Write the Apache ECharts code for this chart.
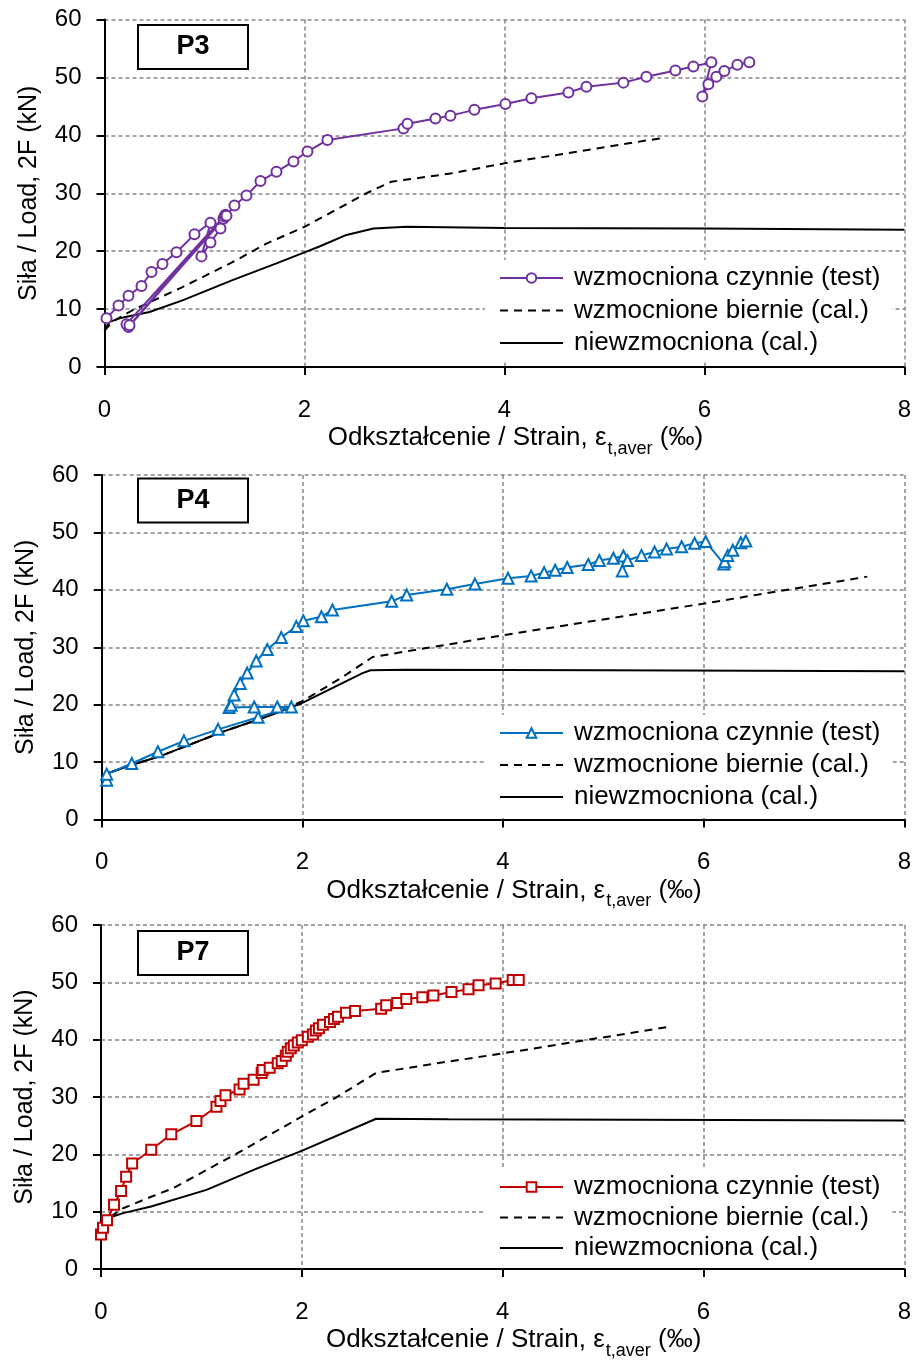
<!DOCTYPE html>
<html>
<head>
<meta charset="utf-8">
<script src="https://cdn.jsdelivr.net/npm/echarts@6/dist/echarts.min.js"></script>
<style>
body{margin:0;background:#fff;}
#chart{width:914px;height:1361px;}
</style>
</head>
<body>
<div id="chart"></div>
<script>
// strain (‰), load (kN)
var xTicks = [0, 2, 4, 6, 8];
var yTicks = [0, 10, 20, 30, 40, 50, 60];
var panelNames = ['P3', 'P4', 'P7'];
var legendNames = ['wzmocniona czynnie (test)', 'wzmocnione biernie (cal.)', 'niewzmocniona (cal.)'];

var p3Test = [[0.02,8.4],[0.14,10.6],[0.24,12.3],[0.37,14.0],[0.47,16.4],[0.58,17.8],[0.72,19.8],[0.90,22.9],[1.06,24.9],
  [0.97,19.1],[1.06,21.5],[1.16,23.9],[1.19,25.6],[0.24,6.9],[1.20,26.0],[0.22,7.4],[1.21,26.3],[0.25,7.2],[1.22,26.1],
  [1.30,27.9],[1.42,29.6],
  [1.56,32.1],[1.72,33.7],[1.89,35.5],[2.03,37.2],[2.23,39.2],[2.99,41.2],[3.03,42.0],[3.31,42.9],[3.46,43.4],[3.70,44.4],
  [4.01,45.4],[4.27,46.4],[4.64,47.4],[4.82,48.4],[5.19,49.1],[5.42,50.1],[5.71,51.2],[5.89,51.9],[6.07,52.6],[5.98,46.7],
  [6.04,48.8],[6.12,50.1],[6.20,51.1],[6.33,52.2],[6.45,52.6]];
var p3Passive = [[0,6.3],[0.08,7.8],[0.28,9.8],[0.78,13.8],[1.28,18.1],[1.62,21.3],[2.0,24.2],[2.62,30.0],[2.87,32.0],
  [3.46,33.4],[4.01,35.2],[5.6,39.6]];
var p3Plain = [[0,6.3],[0.05,7.8],[0.15,8.4],[0.45,9.5],[0.78,11.5],[1.28,15.0],[1.72,17.9],[2.0,19.8],[2.15,20.8],
  [2.42,22.8],[2.69,23.9],[3.02,24.2],[4.0,24.0],[6.0,23.9],[8.0,23.7]];

var p4Test = [[0.05,6.85],[0.05,7.9],[0.30,9.75],[0.56,11.8],[0.82,13.7],[1.16,15.7],[1.56,17.8],[1.89,19.6],[1.75,19.6],
  [1.52,19.6],[1.27,19.5],[1.29,19.9],[1.32,21.7],[1.38,23.7],[1.45,25.5],[1.54,27.6],[1.65,29.6],[1.79,31.7],[1.94,33.6],
  [2.01,34.6],[2.19,35.3],[2.30,36.5],[2.89,38.0],[3.04,39.1],[3.44,40.1],[3.72,41.0],[4.05,42.0],[4.28,42.4],[4.41,43.0],
  [4.52,43.4],[4.64,43.9],[4.85,44.4],[4.96,45.1],[5.10,45.5],[5.20,45.9],[5.19,43.3],[5.24,45.1],[5.38,46.0],[5.51,46.6],
  [5.63,47.1],[5.78,47.5],[5.91,48.1],[6.02,48.4],[6.20,44.5],[6.21,44.9],[6.24,46.0],[6.29,46.9],[6.37,48.2],[6.42,48.5]];
var p4Passive = [[0,6.85],[0.05,8.0],[0.30,9.5],[0.61,11.2],[1.21,15.3],[1.64,17.9],[2.0,20.6],[2.40,24.8],[2.70,28.3],
  [3.46,30.5],[4.0,32.1],[6.0,37.6],[7.63,42.3]];
var p4Plain = [[0,6.85],[0.05,8.0],[0.30,9.5],[0.61,11.2],[1.21,15.3],[1.64,17.9],[2.0,20.3],[2.60,25.5],[2.68,26.0],
  [3.03,26.1],[5.0,26.0],[8.0,25.8]];

var p7Test = [[0.00,6.0],[0.02,7.2],[0.06,8.5],[0.13,11.2],[0.20,13.6],[0.25,16.1],[0.31,18.4],[0.50,20.8],[0.70,23.5],
  [0.95,25.8],[1.15,28.3],[1.19,29.3],[1.24,30.3],[1.38,31.3],[1.42,32.3],[1.52,33.0],[1.60,34.2],[1.61,34.7],[1.68,35.1],
  [1.76,35.9],[1.80,36.3],[1.84,37.2],[1.86,37.9],[1.89,38.5],[1.92,39.0],[1.96,39.5],[2.00,39.9],[2.06,40.5],[2.11,40.9],
  [2.14,41.6],[2.17,42.0],[2.21,42.6],[2.28,43.1],[2.32,43.6],[2.36,44.0],[2.44,44.7],[2.53,45.0],[2.79,45.4],[2.84,46.0],
  [2.95,46.4],[3.04,47.1],[3.20,47.4],[3.31,47.7],[3.49,48.3],[3.66,48.8],[3.76,49.5],[3.93,49.8],[4.10,50.4],[4.16,50.4]];
var p7Passive = [[0,7.4],[0.06,8.7],[0.22,10.6],[0.50,12.6],[0.72,14.1],[1.41,20.7],[2.01,26.7],[2.34,29.9],[2.74,34.2],
  [3.43,36.1],[4.0,37.6],[5.68,42.3]];
var p7Plain = [[0,7.3],[0.02,8.6],[0.22,9.75],[0.50,10.9],[1.05,13.8],[1.55,17.5],[2.01,20.7],[2.74,26.2],[3.46,26.1],
  [8.0,25.9]];

var testData = [p3Test, p4Test, p7Test];
var passiveData = [p3Passive, p4Passive, p7Passive];
var plainData = [p3Plain, p4Plain, p7Plain];

var colors = ['#7030A0', '#0070C0', '#C00000'];
var symbols = ['emptyCircle', 'emptyTriangle', 'emptyRect'];
var font = '"Liberation Sans", Arial, sans-serif';

// plot boxes in px
var grids = [
  {left: 104.5, top: 19.5, width: 801.5, height: 347.5},
  {left: 101.7, top: 475, width: 805, height: 344.5},
  {left: 101, top: 925, width: 806, height: 348.5}
];
var legendTop = [260, 715, 1169];
var legendGap = [6.5, 6, 4.5];
var boxTop = [25, 478.5, 931];

var mychart = echarts.init(document.getElementById('chart'));
var option = {
  animation: false,
  backgroundColor: '#fff',
  textStyle: {fontFamily: font, color: '#000'},
  grid: [], xAxis: [], yAxis: [], series: [], legend: [], graphic: []
};

var gridLine = {show: true, lineStyle: {color: '#858585', width: 1.5, type: [4, 3]}};
var blackLine = {show: true, onZero: false, lineStyle: {color: '#000', width: 2}};

for (var i = 0; i < 3; i++) {
  option.grid.push(grids[i]);
  option.xAxis.push({
    gridIndex: i, type: 'value', min: xTicks[0], max: xTicks[xTicks.length - 1], interval: xTicks[1] - xTicks[0],
    axisLine: blackLine,
    axisTick: {show: true, length: 8, lineStyle: {color: '#000', width: 2}},
    axisLabel: {color: '#000', fontSize: 24, margin: 31, fontFamily: font},
    splitLine: gridLine,
    name: '{n|Odkształcenie / Strain, ε}{s|t,aver}{n| (‰)}',
    nameLocation: 'middle', nameGap: 54,
    nameTextStyle: {
      padding: [0, 0, 0, 22],
      rich: {
        n: {fontSize: 26, fontFamily: font, color: '#000', verticalAlign: 'bottom', lineHeight: 30},
        s: {fontSize: 18, fontFamily: font, color: '#000', verticalAlign: 'bottom', lineHeight: 30, padding: [0, 0, -7, 1]}
      }
    }
  });
  option.yAxis.push({
    gridIndex: i, type: 'value', min: yTicks[0], max: yTicks[yTicks.length - 1], interval: yTicks[1] - yTicks[0],
    axisLine: blackLine,
    axisTick: {show: true, length: 8, lineStyle: {color: '#000', width: 2}},
    axisLabel: {color: '#000', fontSize: 24, margin: 23, fontFamily: font},
    splitLine: gridLine,
    name: 'Siła / Load, 2F (kN)', nameLocation: 'middle', nameGap: 63,
    nameTextStyle: {fontSize: 25, color: '#000', fontFamily: font}
  });

  var key = panelNames[i] + '|';
  option.series.push({
    name: key + legendNames[0], type: 'line', xAxisIndex: i, yAxisIndex: i, data: testData[i],
    symbol: symbols[i], symbolSize: i === 1 ? 11 : 10,
    itemStyle: {color: colors[i], borderWidth: 2},
    lineStyle: {color: colors[i], width: 2}, z: 5
  });
  option.series.push({
    name: key + legendNames[1], type: 'line', xAxisIndex: i, yAxisIndex: i, data: passiveData[i],
    symbol: 'none', itemStyle: {color: 'rgba(0,0,0,0)'}, lineStyle: {color: '#000', width: 2, type: [8, 6]}, z: 3
  });
  option.series.push({
    name: key + legendNames[2], type: 'line', xAxisIndex: i, yAxisIndex: i, data: plainData[i],
    symbol: 'none', itemStyle: {color: 'rgba(0,0,0,0)'}, lineStyle: {color: '#000', width: 2}, z: 3
  });

  option.legend.push({
    orient: 'vertical', left: 485, top: legendTop[i],
    itemWidth: 63, itemHeight: 12, itemGap: legendGap[i],
    padding: [5, 12, 5, 14], backgroundColor: '#fff', selectedMode: false,
    data: legendNames.map(function (n) { return key + n; }),
    formatter: function (name) { return name.split('|')[1]; },
    textStyle: {fontSize: 26, lineHeight: 26, color: '#000', fontFamily: font, padding: [0, 0, 0, 6]}
  });

  option.graphic.push({
    type: 'rect', shape: {x: 138, y: boxTop[i], width: 110, height: 44},
    style: {fill: '#fff', stroke: '#000', lineWidth: 2}, z: 10
  });
  option.graphic.push({
    type: 'text', x: 193, y: boxTop[i] + 22, z: 11,
    style: {text: panelNames[i], font: 'bold 27px ' + font, fill: '#000',
      align: 'center', verticalAlign: 'middle', textAlign: 'center', textVerticalAlign: 'middle'}
  });
}

mychart.setOption(option);
</script>
</body>
</html>
